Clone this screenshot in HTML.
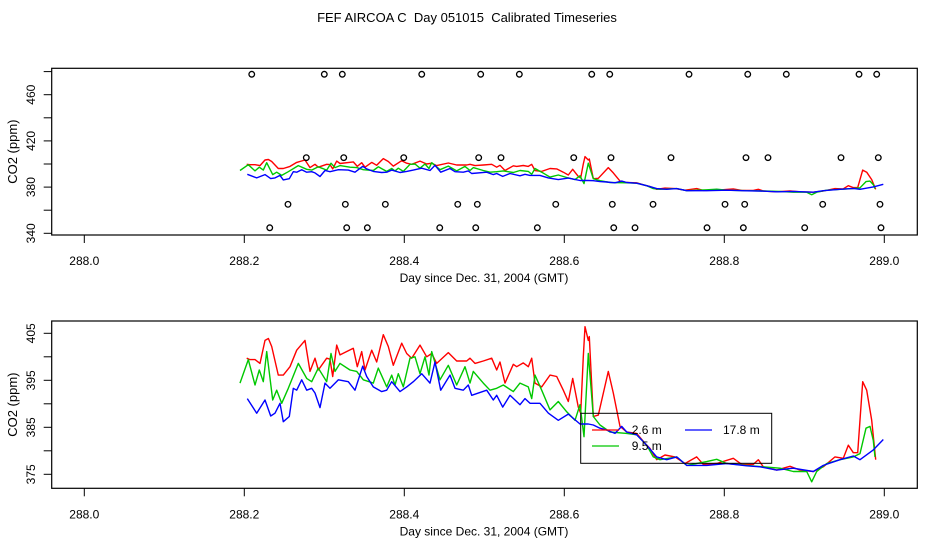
<!DOCTYPE html>
<html><head><meta charset="utf-8"><style>
html,body{margin:0;padding:0;background:#fff;}
svg{display:block;font-family:"Liberation Sans",sans-serif;}
</style></head><body>
<svg id="chart" width="936" height="540" viewBox="0 0 936 540" xmlns="http://www.w3.org/2000/svg">
<text x="467" y="22" font-size="13" text-anchor="middle" xml:space="preserve" style="white-space:pre">FEF AIRCOA C  Day 051015  Calibrated Timeseries</text>
<g id="top"></g>
<g id="bot"></g>
</svg>
<script>
const xTicks = [288.0, 288.2, 288.4, 288.6, 288.8, 289.0];
const xTickLabels = ["288.0","288.2","288.4","288.6","288.8","289.0"];
const topYTicks = [340,360,380,400,420,440,460,480];
const topYLabels = [340,380,420,460];
const botYTicks = [375,380,385,390,395,400,405];
const botYLabels = [375,385,395,405];

const redDays = [288.203,288.207,288.2134,288.2196,288.2259,288.2301,288.2342,288.2425,288.2488,288.2571,288.2655,288.2759,288.2821,288.2884,288.2925,288.3030,288.3071,288.3105,288.3155,288.3196,288.3363,288.3413,288.3467,288.3509,288.3592,288.3655,288.3738,288.3800,288.3863,288.3967,288.4030,288.4092,288.4196,288.4280,288.4342,288.4405,288.4550,288.4655,288.4780,288.4821,288.4884,288.4988,288.5092,288.5155,288.5196,288.5259,288.5363,288.5405,288.5488,288.5550,288.5592,288.5634,288.5717,288.5821,288.5905,288.5988,288.6050,288.6105,288.6175,288.6205,288.6238,288.6259,288.6300,288.6313,288.6363,288.6425,288.6550,288.6613,288.6696,288.6780,288.6905,288.7009,288.7071,288.7155,288.7259,288.7384,288.7509,288.7655,288.7738,288.7905,288.8113,288.8218,288.8363,288.8425,288.8488,288.8655,288.8821,288.8946,288.9113,288.9238,288.9384,288.9488,288.9550,288.9613,288.9667,288.9730,288.9780,288.9842,288.9892];
const redVals = [399.7,399.4,399.4,398.6,403.5,403.9,402.2,396.1,396.1,397.9,401.4,403.5,396.9,399.7,397.2,399.7,399.5,395.8,402.5,400.4,401.8,397.9,401.1,397.2,401.4,398.9,404.7,402.2,398.2,402.9,400.7,399.7,402.5,400.0,400.7,398.6,400.9,399.1,399.1,399.7,398.6,399.1,399.7,397.2,398.9,394.4,398.4,397.9,398.7,397.9,399.7,394.4,393.6,396.1,395.8,392.9,390.5,395.4,389.3,388.0,400.0,406.4,403.5,404.3,387.3,387.6,396.9,392.3,385.2,384.0,383.7,381.6,380.5,378.1,379.1,378.7,377.3,378.7,377.1,377.3,378.4,377.1,377.1,378.1,376.6,375.9,376.7,375.9,375.6,376.6,378.7,378.4,381.2,379.6,379.6,394.7,392.9,386.5,378.1];

const greenDays = [288.1946,288.2050,288.2134,288.2188,288.2238,288.2280,288.2355,288.2405,288.2467,288.2550,288.2675,288.2780,288.2842,288.2925,288.3030,288.3084,288.3134,288.3196,288.3321,288.3405,288.3488,288.3613,288.3675,288.3780,288.3842,288.3884,288.3925,288.3988,288.4071,288.4134,288.4196,288.4259,288.4309,288.4342,288.4446,288.4550,288.4655,288.4759,288.4821,288.4863,288.4988,288.5071,288.5155,288.5238,288.5363,288.5446,288.5550,288.5592,288.5634,288.5717,288.5821,288.5925,288.6030,288.6134,288.6196,288.6246,288.6300,288.6363,288.6446,288.6571,288.6780,288.6905,288.7030,288.7113,288.7196,288.7405,288.7530,288.7780,288.7905,288.8030,288.8280,288.8488,288.8696,288.8863,288.9030,288.9092,288.9155,288.9280,288.9446,288.9613,288.9696,288.9771,288.9821,288.9863,288.9884];
const greenVals = [394.4,399.4,394.0,397.2,394.7,401.1,390.8,392.9,390.1,393.3,398.6,395.4,394.7,397.6,394.7,400.7,396.9,398.6,397.2,396.9,395.1,394.4,397.6,393.6,396.1,394.0,396.4,393.6,399.7,400.0,396.4,400.0,396.1,401.1,395.1,398.2,394.0,397.9,394.4,396.9,394.4,392.9,393.3,394.0,392.6,394.4,393.6,391.1,396.1,392.9,388.7,390.5,388.3,386.5,389.8,383.0,400.7,387.3,385.5,384.0,383.7,383.4,381.2,378.7,378.1,378.7,376.9,377.7,378.2,377.3,376.9,376.6,376.3,375.6,375.6,373.4,375.6,377.3,378.1,378.7,379.4,384.8,385.2,382.2,378.7];

const blueDays = [288.2038,288.2155,288.2259,288.2330,288.2384,288.2446,288.2488,288.2563,288.2613,288.2655,288.2717,288.2780,288.2842,288.2884,288.2946,288.3009,288.3071,288.3176,288.3300,288.3384,288.3480,288.3530,288.3613,288.3717,288.3780,288.3842,288.3946,288.4030,288.4113,288.4217,288.4321,288.4384,288.4455,288.4571,288.4634,288.4738,288.4800,288.4842,288.5030,288.5113,288.5155,288.5230,288.5321,288.5446,288.5509,288.5571,288.5696,288.5801,288.5925,288.6050,288.6196,288.6300,288.6363,288.6446,288.6530,288.6634,288.6718,288.6780,288.6905,288.7030,288.7155,288.7280,288.7405,288.7530,288.7780,288.8030,288.8280,288.8446,288.8655,288.8863,288.9113,288.9238,288.9446,288.9613,288.9696,288.9863,288.9988];
const blueVals = [391.1,388.0,390.8,387.4,388.0,390.1,386.2,387.3,393.3,392.9,395.1,392.9,393.3,392.3,389.2,394.4,393.3,395.1,394.7,392.9,398.0,395.8,393.6,392.6,392.9,394.7,392.6,393.6,394.7,396.4,394.4,398.9,392.9,396.1,393.3,392.9,394.0,391.8,392.9,390.8,391.8,389.3,391.8,389.8,391.1,390.1,390.1,388.0,386.5,387.8,385.7,385.7,385.5,384.8,384.4,383.7,385.2,384.0,383.4,381.2,378.7,378.1,378.7,376.9,376.9,377.3,376.8,376.6,375.9,376.3,375.6,376.9,378.1,378.9,378.1,380.2,382.4];

const flagDays = [288.2093,288.3000,288.3225,288.4218,288.4955,288.5438,288.6343,288.6568,288.7559,288.8293,288.8775,288.9684,288.9905,
 288.2775,288.3243,288.3993,288.4930,288.5209,288.6118,288.6584,288.7334,288.8271,288.8546,288.9459,288.9925,
 288.2546,288.3263,288.3763,288.4668,288.4913,288.5893,288.6600,288.7109,288.8009,288.8255,288.9230,288.9946,
 288.2318,288.3280,288.3538,288.4443,288.4893,288.5663,288.6618,288.6884,288.7784,288.8238,288.9005,288.9959];
const flagVals = [477.7,477.7,477.7,477.7,477.7,477.7,477.7,477.7,477.7,477.7,477.7,477.7,477.7,
 405.5,405.5,405.5,405.5,405.5,405.5,405.5,405.5,405.5,405.5,405.5,405.5,
 365.1,365.1,365.1,365.1,365.1,365.1,365.1,365.1,365.1,365.1,365.1,365.1,
 344.8,344.8,344.8,344.8,344.8,344.8,344.8,344.8,344.8,344.8,344.8,344.8];

const NS = "http://www.w3.org/2000/svg";
function mk(parent, tag, attrs, text){
  const e = document.createElementNS(NS, tag);
  for (const k in attrs) e.setAttribute(k, attrs[k]);
  if (text !== undefined) e.textContent = text;
  parent.appendChild(e);
  return e;
}
const L = 51.7, R = 917.3;
function xScale(d){ return 84.3 + (d - 288) * 800; }

function panel(g, top, bottom, yScale, yTicks, yLabels, withFlags, withLegend, prefix){
  const box = mk(g, 'rect', {x:L, y:top, width:R-L, height:bottom-top, fill:'none', stroke:'#000', 'stroke-width':1.2});
  
  
  xTicks.forEach((t,i)=>{
    const x = xScale(t);
    const tk = mk(g, 'line', {x1:x, x2:x, y1:bottom, y2:bottom+8, stroke:'#000', 'stroke-width':1});
    
    
    const lb = mk(g, 'text', {x:x, y:bottom+30, 'font-size':12, 'text-anchor':'middle'}, xTickLabels[i]);
    
    
  });
  const xt = mk(g, 'text', {x:484, y:bottom+47, 'font-size':12, 'text-anchor':'middle'}, 'Day since Dec. 31, 2004 (GMT)');
  
  
  yTicks.forEach(t=>{
    const y = yScale(t);
    const tk = mk(g, 'line', {x1:L-8, x2:L, y1:y, y2:y, stroke:'#000', 'stroke-width':1});
    
    
  });
  yLabels.forEach(t=>{
    const y = yScale(t);
    const lb = mk(g, 'text', {x:0, y:0, 'font-size':12, 'text-anchor':'middle', transform:`translate(35,${y}) rotate(-90)`}, String(t));
    
    
  });
  const yt = mk(g, 'text', {x:0, y:0, 'font-size':13, 'text-anchor':'middle', transform:`translate(17,${(top+bottom)/2}) rotate(-90)`}, 'CO2 (ppm)');
  
  

  const series = [[redDays, redVals, '#ff0000', '2.6 m'], [greenDays, greenVals, '#00c800', '9.5 m'], [blueDays, blueVals, '#0000ff', '17.8 m']];
  series.forEach(([ds, vs, c, nm])=>{
    const pts = ds.map((d,i)=> xScale(d).toFixed(1) + ',' + yScale(vs[i]).toFixed(1)).join(' ');
    const pl = mk(g, 'polyline', {points:pts, fill:'none', stroke:c, 'stroke-width':1.4, 'stroke-linejoin':'round'});
    
    
  });
  if (withFlags){
    flagDays.forEach((d,i)=>{
      const c = mk(g, 'circle', {cx:xScale(d), cy:yScale(flagVals[i]), r:2.8, fill:'none', stroke:'#000', 'stroke-width':1.3});
      
      
    });
  }
  if (withLegend){
    const lg = mk(g, 'g', {});
    
    
    mk(lg, 'rect', {x:580.7, y:413.3, width:191, height:50, fill:'none', stroke:'#000', 'stroke-width':1});
    const items = [['#ff0000', 592, 430, '2.6 m', 631.7], ['#0000ff', 685, 430, '17.8 m', 723], ['#00c800', 592, 446, '9.5 m', 631.7]];
    items.forEach(([c, x, y, t, tx])=>{
      const ln = mk(lg, 'line', {x1:x, x2:x+27, y1:y, y2:y, stroke:c, 'stroke-width':1.3});
      
      
      const tt = mk(lg, 'text', {x:tx, y:y+4, 'font-size':12}, t);
      
      
    });
  }
}
const topScale = v => 233.3 - (v - 340) * 1.155;
const botScale = v => 333.3 + (405 - v) * 4.7;
panel(document.getElementById('top'), 68.3, 235, topScale, topYTicks, topYLabels, true, false, 'top');
panel(document.getElementById('bot'), 321, 488.3, botScale, botYTicks, botYLabels, false, true, 'bottom');
</script>
</body></html>
